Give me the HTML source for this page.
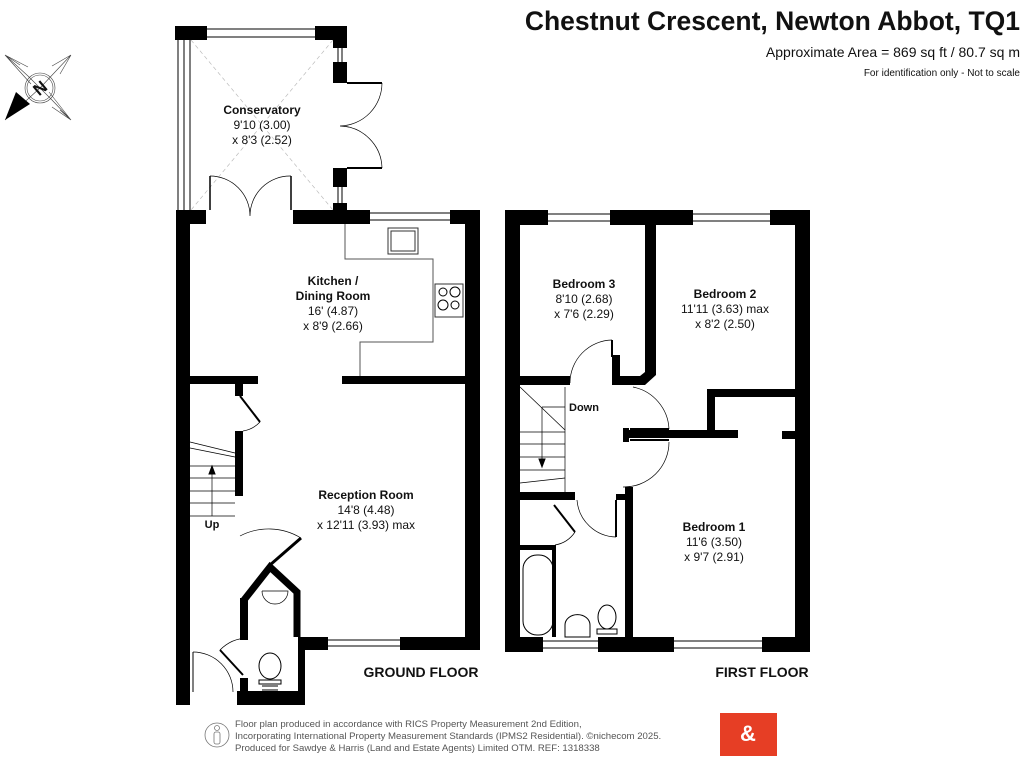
<!DOCTYPE html>
<html><head><meta charset="utf-8"><style>
html,body{margin:0;padding:0;background:#fff}
svg{display:block}
text{font-family:"Liberation Sans",Arial,sans-serif;fill:#111}
.b{font-weight:bold}
</style></head><body>
<svg width="1024" height="768" viewBox="0 0 1024 768" xmlns="http://www.w3.org/2000/svg">
<rect width="1024" height="768" fill="#fff"/>
<!-- Title -->
<text x="1020" y="30" text-anchor="end" class="b" font-size="26.5">Chestnut Crescent, Newton Abbot, TQ1</text>
<text x="1020" y="57" text-anchor="end" font-size="14">Approximate Area = 869 sq ft / 80.7 sq m</text>
<text x="1020" y="76" text-anchor="end" font-size="10">For identification only - Not to scale</text>
<!-- compass -->
<g stroke="#444" stroke-width="0.6" fill="none">
<circle cx="40" cy="88" r="15"/><circle cx="40" cy="88" r="13"/>
<path d="M5,55 L28,76 L40,88 M71,120 L52,100 L40,88 M5,120 L40,88 L71,55 M5,55 L31,84 M71,120 L49,92 M20,65 L5,55 L28,67 M60,110 L71,120 L52,107 M71,55 L52,66 M71,55 L60,74"/>
</g>
<polygon points="5,120 16,92 30,104" fill="#000"/>
<text x="40" y="94" text-anchor="middle" class="b" font-size="17" transform="rotate(-40 40 88)">N</text>

<!-- conservatory dashed diagonals -->
<g stroke="#bbb" stroke-width="0.7" stroke-dasharray="4,3">
<line x1="191" y1="40" x2="333" y2="210"/><line x1="333" y1="40" x2="191" y2="210"/>
</g>

<g fill="#000">
<!-- Conservatory -->
<rect x="175" y="26" width="32" height="14"/>
<rect x="315" y="26" width="32" height="14"/>
<rect x="333" y="40" width="14" height="8"/>
<rect x="333" y="62" width="14" height="21"/>
<rect x="333" y="168" width="14" height="19"/>
<rect x="333" y="203" width="14" height="10"/>
<!-- ground floor outer -->
<rect x="176" y="210" width="30" height="14"/>
<rect x="293" y="210" width="77" height="14"/>
<rect x="450" y="210" width="30" height="14"/>
<rect x="465" y="210" width="15" height="440"/>
<rect x="176" y="210" width="14" height="495"/>
<rect x="190" y="376" width="68" height="8"/>
<rect x="342" y="376" width="123" height="8"/>
<rect x="235" y="384" width="8" height="12"/>
<rect x="235" y="431" width="8" height="65"/>
<rect x="298" y="637" width="30" height="13"/>
<rect x="400" y="637" width="80" height="13"/>
<rect x="298" y="650" width="7" height="55"/>
<rect x="237" y="691" width="63" height="14"/>
<rect x="176" y="691" width="14" height="14"/>
<rect x="240" y="598" width="8" height="42"/>
<rect x="240" y="678" width="8" height="14"/>
<!-- first floor -->
<rect x="505" y="210" width="43" height="15"/>
<rect x="610" y="210" width="83" height="15"/>
<rect x="770" y="210" width="40" height="15"/>
<rect x="505" y="210" width="15" height="442"/>
<rect x="795" y="210" width="15" height="442"/>
<rect x="505" y="637" width="38" height="15"/>
<rect x="598" y="637" width="76" height="15"/>
<rect x="762" y="637" width="48" height="15"/>
<rect x="645" y="225" width="11" height="150"/>
<polygon points="645,372 656,375 645,385 612,385 612,376 640,376"/>
<rect x="612" y="355" width="8" height="30"/>
<rect x="520" y="376" width="50" height="9"/>
<rect x="707" y="389" width="88" height="8"/>
<rect x="707" y="389" width="8" height="48"/>
<rect x="625" y="430" width="113" height="8"/>
<rect x="782" y="431" width="13" height="8"/>
<rect x="623" y="428" width="6" height="14"/>
<rect x="520" y="492" width="55" height="8"/>
<rect x="625" y="487" width="8" height="150"/>
<rect x="616" y="494" width="9" height="6"/>
<rect x="520" y="545" width="35" height="5"/>
<rect x="552" y="545" width="4" height="92"/>
</g>
<g stroke="#000" stroke-width="1" fill="none">
<line x1="207" y1="29" x2="315" y2="29"/><line x1="207" y1="37" x2="315" y2="37"/>
<line x1="178" y1="40" x2="178" y2="210"/><line x1="184" y1="40" x2="184" y2="210"/><line x1="190" y1="40" x2="190" y2="210"/>
<line x1="338" y1="48" x2="338" y2="62"/><line x1="342" y1="48" x2="342" y2="62"/>
<line x1="338" y1="187" x2="338" y2="203"/><line x1="342" y1="187" x2="342" y2="203"/>
<line x1="347" y1="83" x2="382" y2="83" stroke-width="2"/><line x1="347" y1="168" x2="382" y2="168" stroke-width="2"/>
<path d="M382,83 A43,43 0 0 1 340,126 M382,168 A43,43 0 0 0 340,126" stroke-width="0.7"/>
<line x1="210" y1="176" x2="210" y2="210" stroke-width="1.5"/><line x1="291" y1="176" x2="291" y2="210" stroke-width="1.5"/>
<path d="M210,176 A40,40 0 0 1 250,216 M291,176 A40,40 0 0 0 250,216" stroke-width="0.7"/>
<line x1="370" y1="213" x2="450" y2="213"/><line x1="370" y1="220" x2="450" y2="220"/>
<line x1="328" y1="640" x2="400" y2="640"/><line x1="328" y1="646" x2="400" y2="646"/>
<polyline points="345,224 345,259 433,259 433,342 360,342 360,376" stroke="#555"/>
<rect x="388" y="228" width="30" height="26" stroke="#333"/><rect x="391" y="231" width="24" height="20" stroke="#333"/>
<rect x="435" y="284" width="28" height="33" stroke="#333"/>
<circle cx="443" cy="292" r="4"/><circle cx="455" cy="292" r="5"/><circle cx="443" cy="305" r="5"/><circle cx="455" cy="305" r="4"/>
<g stroke-width="0.7"><line x1="190" y1="442" x2="235" y2="453"/><line x1="190" y1="448" x2="235" y2="457"/>
<line x1="190" y1="466" x2="235" y2="466"/><line x1="190" y1="478" x2="235" y2="478"/><line x1="190" y1="491" x2="235" y2="491"/><line x1="190" y1="503" x2="235" y2="503"/><line x1="190" y1="516" x2="235" y2="516"/>
<line x1="212" y1="470" x2="212" y2="516"/></g>
<polygon points="212,466 209,474 215,474" fill="#000"/>
<line x1="240" y1="396" x2="260" y2="422" stroke-width="2"/><path d="M260,422 A30,30 0 0 1 243,431" stroke-width="0.7"/>
<line x1="270" y1="565" x2="301" y2="538" stroke-width="3"/><path d="M301,538 A62,62 0 0 0 240,536" stroke-width="0.7"/>
<polyline points="244,600 270,567 297,592 297,637" stroke-width="7"/>
<line x1="220" y1="650" x2="243" y2="675" stroke-width="2"/><path d="M220,650 A40,40 0 0 1 248,638" stroke-width="0.7"/>
<path d="M193,652 A40,40 0 0 1 233,692" stroke-width="0.7"/><line x1="193" y1="652" x2="193" y2="692"/>
<path d="M262,591 L288,591 A13,13 0 0 1 262,591" stroke-width="0.7"/>
<ellipse cx="270" cy="666" rx="11" ry="13"/><rect x="259" y="680" width="22" height="4"/>
<line x1="262" y1="686" x2="278" y2="686"/><line x1="262" y1="690" x2="278" y2="690"/>
<line x1="548" y1="214" x2="610" y2="214"/><line x1="548" y1="221" x2="610" y2="221"/>
<line x1="693" y1="214" x2="770" y2="214"/><line x1="693" y1="221" x2="770" y2="221"/>
<line x1="543" y1="641" x2="598" y2="641"/><line x1="543" y1="648" x2="598" y2="648"/>
<line x1="674" y1="641" x2="762" y2="641"/><line x1="674" y1="648" x2="762" y2="648"/>
<line x1="612" y1="340" x2="612" y2="357" stroke-width="2"/>
<path d="M612,340 A43,43 0 0 0 570,383" stroke-width="0.7"/>
<path d="M633,387 A45,45 0 0 1 669,429" stroke-width="0.7"/><line x1="630" y1="429" x2="669" y2="429" stroke-width="2"/>
<path d="M669,442 A45,45 0 0 1 623,487" stroke-width="0.7"/><line x1="630" y1="440" x2="669" y2="440" stroke-width="2"/>
<line x1="616" y1="500" x2="616" y2="537" stroke-width="2"/><path d="M616,537 A40,40 0 0 1 577,500" stroke-width="0.7"/>
<line x1="554" y1="505" x2="575" y2="532" stroke-width="2"/><path d="M575,532 A30,30 0 0 1 555,545" stroke-width="0.7"/>
<g stroke-width="0.7"><line x1="520" y1="387" x2="565" y2="430"/><line x1="542" y1="407" x2="565" y2="407"/>
<line x1="565" y1="387" x2="565" y2="492"/>
<line x1="520" y1="432" x2="565" y2="432"/><line x1="520" y1="444" x2="565" y2="444"/><line x1="520" y1="457" x2="565" y2="457"/><line x1="520" y1="470" x2="565" y2="470"/><line x1="520" y1="483" x2="565" y2="478"/>
<line x1="542" y1="407" x2="542" y2="462"/></g>
<polygon points="542,467 539,459 545,459" fill="#000"/>
<rect x="523" y="555" width="30" height="80" rx="14"/>
<path d="M565,625 A12,10 0 0 1 590,625 L590,637 L565,637 Z"/>
<ellipse cx="607" cy="617" rx="9" ry="12"/><rect x="597" y="629" width="20" height="5"/>
</g>
<g text-anchor="middle" font-size="12">
<text x="262" y="114" class="b">Conservatory</text><text x="262" y="129">9'10 (3.00)</text><text x="262" y="144">x 8'3 (2.52)</text>
<text x="333" y="285" class="b">Kitchen /</text><text x="333" y="300" class="b">Dining Room</text><text x="333" y="315">16' (4.87)</text><text x="333" y="330">x 8'9 (2.66)</text>
<text x="366" y="499" class="b">Reception Room</text><text x="366" y="514">14'8 (4.48)</text><text x="366" y="529">x 12'11 (3.93) max</text>
<text x="212" y="528" class="b" font-size="11">Up</text>
<text x="584" y="288" class="b">Bedroom 3</text><text x="584" y="303">8'10 (2.68)</text><text x="584" y="318">x 7'6 (2.29)</text>
<text x="725" y="298" class="b">Bedroom 2</text><text x="725" y="313">11'11 (3.63) max</text><text x="725" y="328">x 8'2 (2.50)</text>
<text x="714" y="531" class="b">Bedroom 1</text><text x="714" y="546">11'6 (3.50)</text><text x="714" y="561">x 9'7 (2.91)</text>
<text x="584" y="411" class="b" font-size="11">Down</text>
<text x="421" y="677" class="b" font-size="14">GROUND FLOOR</text>
<text x="762" y="677" class="b" font-size="14">FIRST FLOOR</text>
</g>
<g stroke="#777" fill="none" stroke-width="0.8"><circle cx="217" cy="735" r="12"/><circle cx="217" cy="728" r="2.5"/><rect x="214" y="732" width="6" height="12" rx="2"/></g>
<g font-size="9.6"><text x="235" y="727" style="fill:#555">Floor plan produced in accordance with RICS Property Measurement 2nd Edition,</text>
<text x="235" y="739" style="fill:#555">Incorporating International Property Measurement Standards (IPMS2 Residential).   ©nichecom 2025.</text>
<text x="235" y="751" style="fill:#555">Produced for Sawdye &amp; Harris (Land and Estate Agents) Limited OTM.   REF: 1318338</text></g>
<rect x="720" y="713" width="57" height="43" fill="#e63e25"/>
<text x="748" y="741" text-anchor="middle" font-size="22" class="b" style="fill:#fff">&amp;</text>
</svg>
</body></html>
